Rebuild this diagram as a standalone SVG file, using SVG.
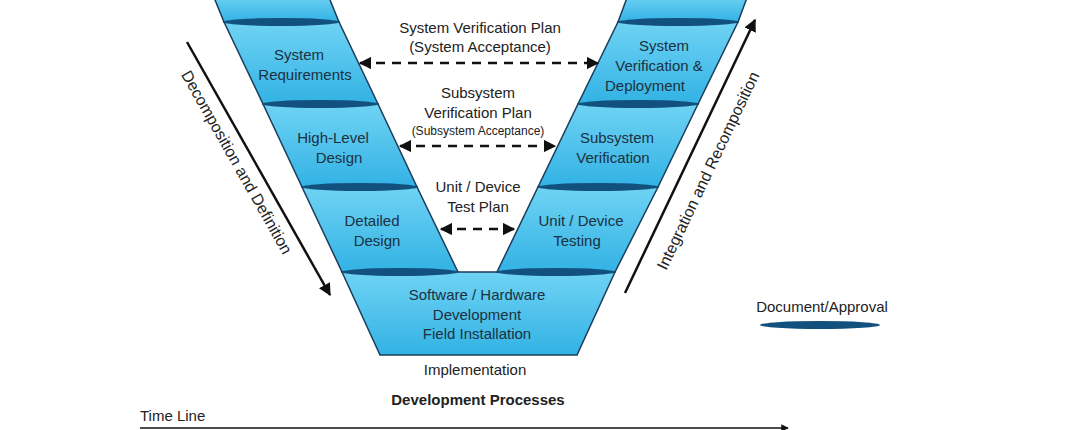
<svg xmlns="http://www.w3.org/2000/svg" width="1080" height="430" viewBox="0 0 1080 430">
<defs>
<linearGradient id="g" x1="0" y1="0" x2="0" y2="1"><stop offset="0" stop-color="#6fd3f4"/><stop offset="1" stop-color="#32b2e4"/></linearGradient>
<marker id="ah" viewBox="0 0 10 10" refX="9" refY="5" markerWidth="5" markerHeight="5" orient="auto-start-reverse"><path d="M0,0 L10,5 L0,10 z" fill="#111"/></marker>
</defs>
<style>
.b{fill:url(#g);stroke:#1b3c5a;stroke-width:1.5}
.d{fill:#12507e}
.t{font-family:"Liberation Sans",Arial,sans-serif;font-size:15px;fill:#1c3140;text-anchor:middle}
.k{font-family:"Liberation Sans",Arial,sans-serif;font-size:15px;fill:#222;text-anchor:middle}
.dash{stroke:#111;stroke-width:2.5;stroke-dasharray:9,7;fill:none}
.ln{stroke:#111;stroke-width:2.5;fill:none}
</style>
<rect width="1080" height="430" fill="#fff"/>
<g id="operations"><polygon class="b" points="213,-5 328,-5 339,22 224,22"/><text class="t" x="270" y="-3">Operations</text></g>
<g id="sysreq"><polygon class="b" points="224,22 339,22 378,104 263,104"/><text class="t" x="299" y="60">System</text><text class="t" x="305" y="80">Requirements</text></g>
<g id="hld"><polygon class="b" points="263,104 378,104 417,187 302,187"/><text class="t" x="333" y="143">High-Level</text><text class="t" x="339" y="163">Design</text></g>
<g id="dd"><polygon class="b" points="302,187 417,187 458,272 342,272"/><text class="t" x="372" y="226">Detailed</text><text class="t" x="377" y="246">Design</text></g>
<g id="impl"><polygon class="b" points="342,272 615,272 577,355 380,355"/><text class="t" x="477" y="300">Software / Hardware</text><text class="t" x="477" y="320">Development</text><text class="t" x="477" y="339">Field Installation</text></g>
<g id="svd"><polygon class="b" points="628,-5 748,-5 738,22 618,22"/><polygon class="b" points="618,22 738,22 698,104 578,104"/><text class="t" x="664" y="51">System</text><text class="t" x="659" y="71">Verification &amp;</text><text class="t" x="645" y="91">Deployment</text></g>
<g id="subver"><polygon class="b" points="578,104 698,104 658,187 538,187"/><text class="t" x="617" y="143">Subsystem</text><text class="t" x="613" y="163">Verification</text></g>
<g id="unittest"><polygon class="b" points="538,187 658,187 615,272 497,272"/><text class="t" x="581" y="226">Unit / Device</text><text class="t" x="577" y="246">Testing</text></g>
<g id="docs">
<ellipse class="d" cx="281" cy="22" rx="58" ry="4"/><ellipse class="d" cx="320" cy="104" rx="58" ry="4"/><ellipse class="d" cx="360" cy="187" rx="58" ry="4"/>
<ellipse class="d" cx="678" cy="22" rx="60" ry="4"/><ellipse class="d" cx="638" cy="104" rx="60" ry="4"/><ellipse class="d" cx="598" cy="187" rx="60" ry="4"/>
<ellipse class="d" cx="400" cy="272" rx="58" ry="4"/><ellipse class="d" cx="556" cy="272" rx="59" ry="4"/>
</g>
<g id="connectors">
<line class="dash" x1="360" y1="63" x2="598" y2="63" marker-start="url(#ah)" marker-end="url(#ah)"/>
<line class="dash" x1="400" y1="146" x2="555" y2="146" marker-start="url(#ah)" marker-end="url(#ah)"/>
<line class="dash" x1="441" y1="229" x2="514" y2="229" marker-start="url(#ah)" marker-end="url(#ah)"/>
<line class="ln" x1="187" y1="42" x2="330" y2="295" marker-end="url(#ah)"/>
<line class="ln" x1="625" y1="293" x2="755" y2="20" marker-end="url(#ah)"/>
<line stroke="#111" stroke-width="1.5" x1="140" y1="428" x2="788" y2="428" marker-end="url(#ah)"/>
</g>
<text class="k" x="480" y="33">System Verification Plan</text>
<text class="k" x="480" y="52">(System Acceptance)</text>
<text class="k" x="478" y="98">Subsystem</text>
<text class="k" x="478" y="118">Verification Plan</text>
<text class="k" x="478" y="135" style="font-size:12px">(Subsystem Acceptance)</text>
<text class="k" x="478" y="192">Unit / Device</text>
<text class="k" x="478" y="212">Test Plan</text>
<text class="k" x="232" y="165" transform="rotate(60.5 232 165)" style="font-size:16px">Decomposition and Definition</text>
<text class="k" x="713" y="173" transform="rotate(-64.5 713 173)" style="font-size:16px">Integration and Recomposition</text>
<text class="k" x="475" y="375">Implementation</text>
<text class="k" x="478" y="405" style="font-weight:bold">Development Processes</text>
<text class="k" x="140" y="421" style="text-anchor:start">Time Line</text>
<text class="k" x="822" y="312">Document/Approval</text>
<ellipse class="d" cx="820" cy="325" rx="60" ry="4"/>
</svg>
